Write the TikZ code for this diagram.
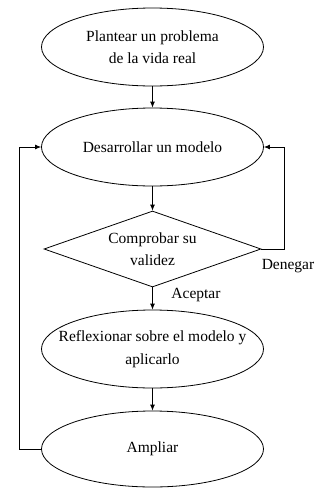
\documentclass[tikz,border=0pt]{standalone}
\usepackage{fontspec}
\setmainfont{Liberation Serif}
\usetikzlibrary{shapes.geometric,arrows.meta}

\begin{document}
\begin{tikzpicture}[x=1pt, y=-1pt, >={Latex[length=6pt,width=5pt]}]
            \useasboundingbox (0,0) rectangle (323,488);
            \begin{scope}[
                    every node/.style={draw, line width=0.8pt, inner ysep=0pt, inner xsep=-40pt,
                        align=center, font=\fontsize{15.5}{22.5}\selectfont},
                    every edge/.style={draw, line width=0.8pt, ->}
                ]

                \node[ellipse, minimum width=222pt, minimum height=78pt] (plantear) at (152.5,47) {Plantear un problema\\de la vida real};
                \node[ellipse, minimum width=222pt, minimum height=78pt] (desarrollar) at (152.5,147) {Desarrollar un modelo};
                \node[diamond, minimum width=217pt, minimum height=76pt, shape aspect=2.86] (comprobar) at (152.5,249) {Comprobar su\\validez};
                \node[ellipse, minimum width=222pt, minimum height=78pt] (reflexionar) at (152.5,349) {Reflexionar sobre el modelo y\\aplicarlo};
                \node[ellipse, minimum width=222pt, minimum height=76pt] (ampliar) at (152.5,449) {Ampliar};
            \end{scope}

            % etiquetas
            \node[font=\fontsize{15.5}{18}\selectfont, inner sep=0pt] (aceptar) at (196,295) {Aceptar};
            \node[font=\fontsize{15.5}{18}\selectfont, inner sep=0pt] (denegar) at (288,266) {Denegar};

            \begin{scope}[every edge/.style={draw, line width=0.8pt, ->}]
                \draw (plantear) edge (desarrollar);
                \draw (desarrollar) edge (comprobar);
                \draw (comprobar) edge (reflexionar);
                \draw (reflexionar) edge (ampliar);
            \end{scope}

            \draw[line width=0.8pt, ->] (ampliar.west) -- ++(-22,0) |- (desarrollar.west);
            \draw[line width=0.8pt, ->] (comprobar.east) -- ++(23,0) |- (desarrollar.east);
        \end{tikzpicture}
\end{document}
